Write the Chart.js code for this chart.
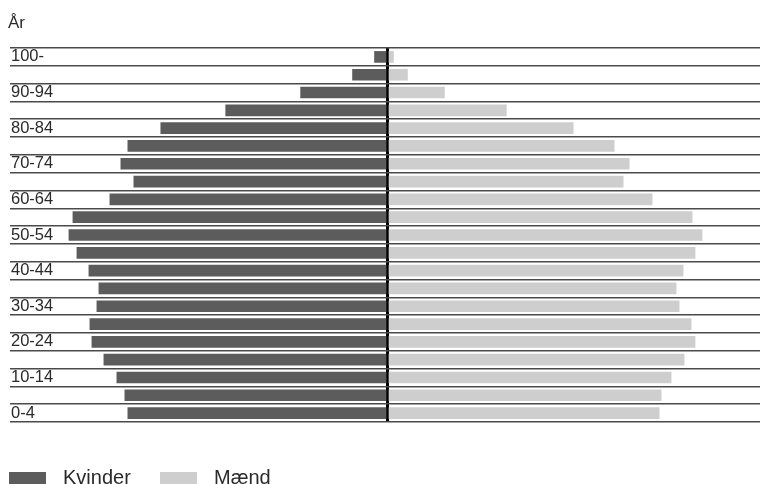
<!DOCTYPE html>
<html>
<head>
<meta charset="utf-8">
<script src="https://cdn.jsdelivr.net/npm/chart.js@4/dist/chart.umd.min.js"></script>
<style>
  html, body { margin: 0; padding: 0; background: #fff; overflow: hidden; }
  #wrap { width: 760px; height: 484px; }
</style>
</head>
<body>
<div id="wrap"><canvas id="pyramid"></canvas></div>
<script>
// age groups, youngest first
const ageGroups = ['0-4', '5-9', '10-14', '15-19', '20-24', '25-29', '30-34', '35-39', '40-44', '45-49',
    '50-54', '55-59', '60-64', '65-69', '70-74', '75-79', '80-84', '85-89', '90-94', '95-99', '100-'];

// bar lengths (relative units)
const kvinder = [260, 263, 271, 284, 296, 298, 291, 289, 299, 311,
    319, 315, 278, 254, 267, 260, 227, 162, 87, 35, 13];
const maend = [272, 274, 284, 297, 308, 304, 292, 289, 296, 308,
    315, 305, 265, 236, 242, 227, 186, 119, 57, 20, 6];

const font = "'Liberation Sans', Arial, Helvetica, sans-serif";

// legend along the bottom edge, boxes + dataset labels
const bottomLegend = {
    id: 'bottomLegend',
    afterDraw(chart) {
        const c = chart.ctx;
        const xs = [9, 160];
        c.save();
        c.font = '20px ' + font;
        c.textBaseline = 'alphabetic';
        c.textAlign = 'left';
        chart.data.datasets.forEach((ds, i) => {
            c.fillStyle = ds.backgroundColor;
            c.fillRect(xs[i], 472, 37, 12);
            c.fillStyle = '#2a2a2a';
            c.fillText(ds.label, xs[i] + 54, 484);
        });
        c.restore();
    }
};

const ctx = document.getElementById('pyramid').getContext('2d');
new Chart(ctx, {
    type: 'bar',
    data: {
        labels: ageGroups,
        datasets: [
            {
                label: 'Kvinder',
                data: kvinder.map(v => -v),
                backgroundColor: '#5c5c5c',
                barThickness: 11
            },
            {
                label: 'Mænd',
                data: maend,
                backgroundColor: '#cecece',
                barThickness: 11
            }
        ]
    },
    options: {
        indexAxis: 'y',
        responsive: true,
        maintainAspectRatio: false,
        animation: false,
        layout: { padding: { left: 8, right: 0, top: 0, bottom: 62 } },
        scales: {
            x: {
                stacked: true,
                min: -378,
                max: 373,
                afterBuildTicks: axis => { axis.ticks = [{ value: 0 }]; },
                ticks: { display: false },
                border: { display: false },
                grid: { drawTicks: false, color: '#000', lineWidth: 3 }
            },
            y: {
                stacked: true,
                reverse: true,
                border: { display: false },
                grid: { offset: true, drawTicks: false, color: '#4a4a4a', lineWidth: 1.5 },
                ticks: {
                    mirror: true,
                    padding: 1,
                    autoSkip: false,
                    color: '#2a2a2a',
                    font: { family: font, size: 16.5 },
                    callback: function(value, index) {
                        return index % 2 === 0 ? this.getLabelForValue(value) : '';
                    }
                }
            }
        },
        plugins: {
            tooltip: { enabled: false },
            legend: { display: false },
            title: {
                display: true,
                text: 'År',
                align: 'start',
                color: '#2a2a2a',
                font: { family: font, size: 17, weight: 'normal' },
                padding: { top: 13, bottom: 14.6 }
            }
        }
    },
    plugins: [bottomLegend]
});
</script>
</body>
</html>
